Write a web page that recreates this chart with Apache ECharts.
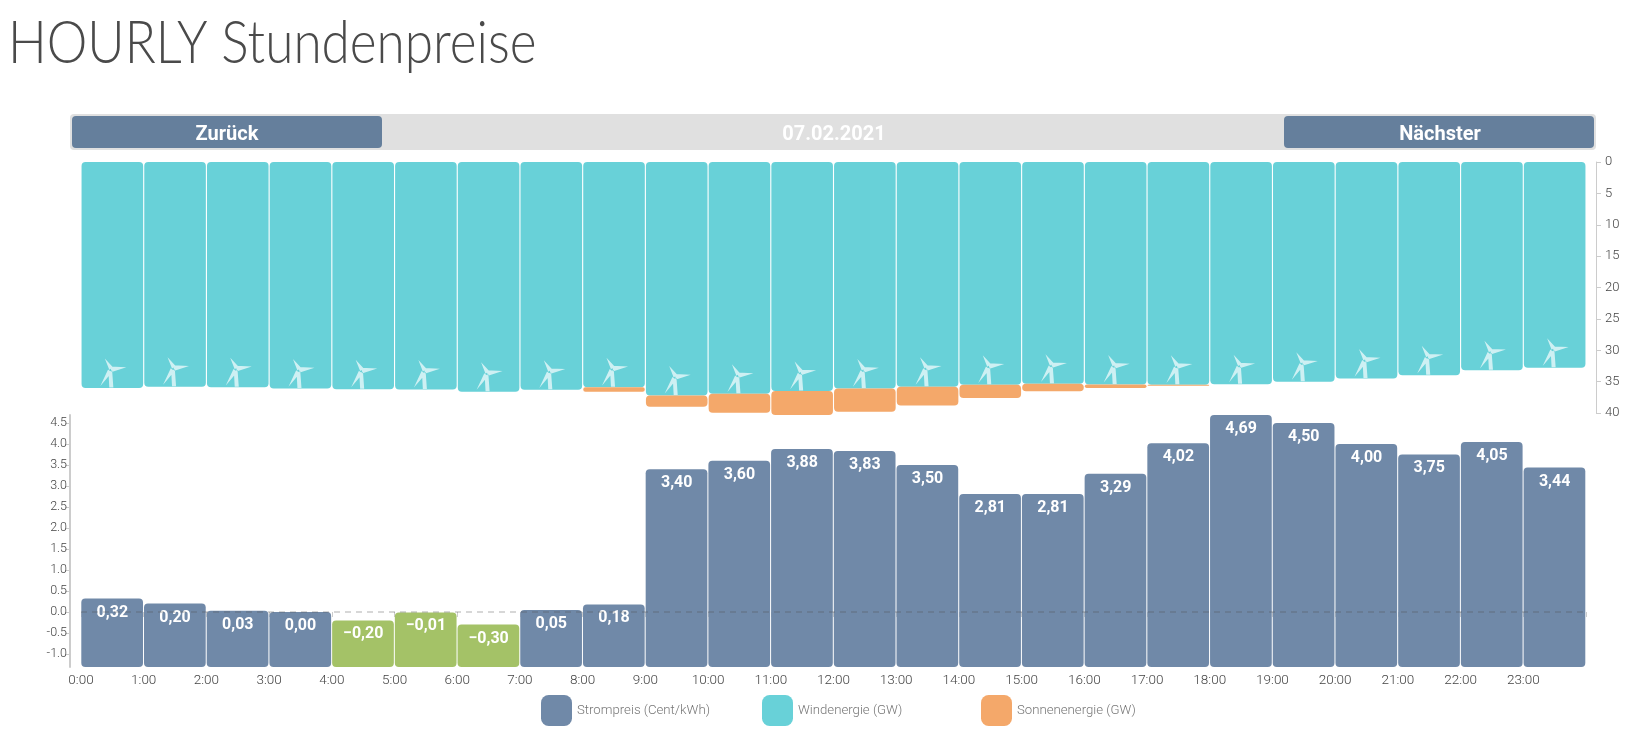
<!DOCTYPE html>
<html>
<head>
<meta charset="utf-8">
<title>HOURLY Stundenpreise</title>
<script src="https://cdn.jsdelivr.net/npm/echarts@6/dist/echarts.min.js"></script>
<style>
html,body{margin:0;padding:0;background:#fff;}
#main{width:1639px;height:753px;}
</style>
</head>
<body>
<div id="main"></div>
<script>
var hourLabels = ['0:00','1:00','2:00','3:00','4:00','5:00','6:00','7:00','8:00','9:00','10:00','11:00','12:00','13:00','14:00','15:00','16:00','17:00','18:00','19:00','20:00','21:00','22:00','23:00',''];
var price = [0.32,0.20,0.03,0.00,-0.20,-0.01,-0.30,0.05,0.18,3.40,3.60,3.88,3.83,3.50,2.81,2.81,3.29,4.02,4.69,4.50,4.00,3.75,4.05,3.44];
var wind = [36.0,35.8,35.9,36.1,36.2,36.25,36.6,36.3,35.9,37.2,36.95,36.5,36.1,35.8,35.5,35.35,35.45,35.5,35.4,35.0,34.5,34.0,33.2,32.8];
var solar = [0,0,0,0,0,0,0,0,0.7,1.8,3.0,3.8,3.7,3.0,2.1,1.2,0.55,0.15,0,0,0,0,0,0];
var priceTicks = [-1,-0.5,0,0.5,1,1.5,2,2.5,3,3.5,4,4.5];
var legendNames = ['Strompreis (Cent/kWh)','Windenergie (GW)','Sonnenenergie (GW)'];

var turbine = 'path://M25 0 L45 26 L36 34 Z M38 24 L78 26 L42 40 Z M33 33 L14 82 L42 42 Z M34 40 L36 86 L46 86 L43 36 Z';
var tickFont = 'Roboto,sans-serif';
var priceColor = '#7089a8', lowColor = '#a4c267', windColor = '#68d1d8', sunColor = '#f4a86a';
var priceMin = -1.31;

// one legend per item, the entries are not evenly gapped by text width
function legendAt(name, left){
	return {
		left: left, top: 695, padding: 0,
		itemWidth: 31, itemHeight: 31,
		icon: 'roundRect',
		data: [name],
		textStyle: {fontFamily: tickFont, fontWeight: 300, fontSize: 13.2, color: '#777'}
	};
}

var chart = echarts.init(document.getElementById('main'));
chart.setOption({
	animation: false,
	backgroundColor: '#fff',
	legend: [legendAt(legendNames[0],541), legendAt(legendNames[1],762), legendAt(legendNames[2],981)],
	graphic: [
		{type:'text', x:8, y:14, scaleX:0.855, style:{text:'HOURLY Stundenpreise', fill:'#4a4a4a', font:'300 60px Lato', textAlign:'left', textVerticalAlign:'top'}},
		{type:'rect', shape:{x:70,y:114,width:1526,height:36,r:4}, style:{fill:'#e0e0e0'}},
		{type:'rect', shape:{x:72,y:116,width:310,height:32,r:4}, style:{fill:'#657f9c'}},
		{type:'rect', shape:{x:1284,y:116,width:310,height:32,r:4}, style:{fill:'#657f9c'}},
		{type:'text', x:227, y:135, style:{text:'Zurück', fill:'#fff', font:'700 20px Roboto', textAlign:'center', textVerticalAlign:'middle'}},
		{type:'text', x:834, y:135, style:{text:'07.02.2021', fill:'#fff', font:'700 20px Roboto', textAlign:'center', textVerticalAlign:'middle'}},
		{type:'text', x:1440, y:135, style:{text:'Nächster', fill:'#fff', font:'700 20px Roboto', textAlign:'center', textVerticalAlign:'middle'}}
	],
	grid: [
		{left: 81, right: 53, top: 162, height: 251},
		{left: 81, right: 53, top: 415, height: 252}
	],
	xAxis: [
		{gridIndex: 0, type: 'category', data: hourLabels.slice(0,24), show: false},
		{gridIndex: 1, type: 'category', boundaryGap: false, data: hourLabels,
			axisLine: {show: false},
			axisTick: {show: true, length: 5, lineStyle: {color: '#ccc'}},
			axisLabel: {interval: 0, margin: 7, fontFamily: tickFont, fontWeight: 300, fontSize: 13.5, color: '#444'}
		}
	],
	yAxis: [
		{gridIndex: 0, type: 'value', inverse: true, position: 'right', offset: 10, min: 0, max: 40, interval: 5,
			splitLine: {show: false},
			axisLine: {show: true, lineStyle: {color: '#ccc', width: 1}},
			axisTick: {show: true, length: 5, lineStyle: {color: '#ccc'}},
			axisLabel: {margin: 9, fontFamily: tickFont, fontWeight: 300, fontSize: 13, color: '#444'}
		},
		{gridIndex: 1, type: 'value', offset: 11, min: priceMin, max: 4.69,
			splitLine: {show: false},
			axisLine: {show: true, onZero: false, lineStyle: {color: '#ccc', width: 2}},
			axisTick: {show: true, length: 5, customValues: priceTicks, lineStyle: {color: '#ccc'}},
			axisLabel: {margin: 3, customValues: priceTicks, fontFamily: tickFont, fontWeight: 300, fontSize: 12.5, color: '#444',
				formatter: function(v){ return v.toFixed(1); }}
		}
	],
	series: [
		{
			name: legendNames[1], type: 'bar', stack: 'energy', xAxisIndex: 0, yAxisIndex: 0,
			data: wind, barWidth: 61.6, clip: false,
			itemStyle: {color: windColor, borderRadius: 4}
		},
		{
			name: legendNames[2], type: 'bar', stack: 'energy', xAxisIndex: 0, yAxisIndex: 0,
			data: solar, barWidth: 61.6, clip: false,
			itemStyle: {color: sunColor, borderRadius: 4}
		},
		{
			// windrad sits at the end of each wind bar
			type: 'scatter', xAxisIndex: 0, yAxisIndex: 0, data: wind, z: 5,
			symbol: turbine, symbolSize: [26,29], symbolOffset: [1,-15], silent: true,
			itemStyle: {color: 'rgba(255,255,255,0.68)', opacity: 1}
		},
		{
			name: legendNames[0], type: 'custom', xAxisIndex: 1, yAxisIndex: 1,
			data: price.map(function(v,i){ return [i,v]; }),
			encode: {x: 0, y: 1}, clip: false,
			itemStyle: {color: priceColor},
			renderItem: function(params, api){
				var i = api.value(0), v = api.value(1);
				var tl = api.coord([i, v]);
				var br = api.coord([i+1, priceMin]);
				return {
					type: 'group',
					children: [
						{type:'rect', shape:{x:tl[0]+0.3, y:tl[1], width:br[0]-tl[0]-1.0, height:br[1]-tl[1], r:4},
							style:{fill: v < 0 ? lowColor : priceColor}},
						{type:'text', x:(tl[0]+br[0])/2, y:tl[1]+14,
							style:{text:v.toFixed(2).replace('.',',').replace('-','−'), fill:'#fff', font:'700 16px Roboto', textAlign:'center', textVerticalAlign:'middle'}}
					]
				};
			},
			markLine: {
				silent: true, symbol: 'none', label: {show: false},
				lineStyle: {type: [6,5], width: 1.5, color: 'rgba(80,80,80,0.3)'},
				data: [{yAxis: 0}]
			}
		}
	]
});
</script>
</body>
</html>
